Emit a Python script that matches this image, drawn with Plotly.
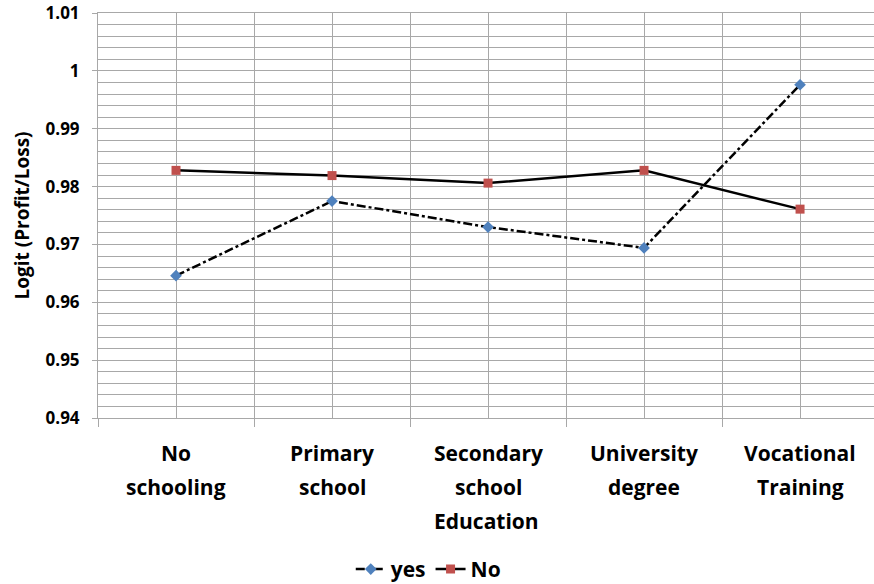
import plotly.graph_objects as go

# Education categories (two text lines each) and the two series
cat_line1 = ["No", "Primary", "Secondary", "University", "Vocational"]
cat_line2 = ["schooling", "school", "school", "degree", "Training"]
yes_vals = [0.9646, 0.9775, 0.9730, 0.9694, 0.9976]
no_vals = [0.9828, 0.9819, 0.9806, 0.9828, 0.9761]
y_ticks = [0.94, 0.95, 0.96, 0.97, 0.98, 0.99, 1.0, 1.01]
y_ticktext = ["0.94", "0.95", "0.96", "0.97", "0.98", "0.99", "1", "1.01"]

xpos = list(range(len(cat_line1)))
FONT = "Open Sans"
GRID = "#a8a8a8"
BIG = dict(family=FONT, size=21, color="black", weight="bold")

fig = go.Figure()
fig.add_trace(go.Scatter(
    x=xpos, y=yes_vals, name="yes", mode="lines+markers",
    line=dict(color="black", width=2.5, dash="dashdot"),
    marker=dict(symbol="diamond", size=9, color="#4f81bd"),
))
fig.add_trace(go.Scatter(
    x=xpos, y=no_vals, name="No", mode="lines+markers",
    line=dict(color="black", width=2.5),
    marker=dict(symbol="square", size=9, color="#c0504d"),
))

# Two-line category labels under the axis
for i, (a, b) in enumerate(zip(cat_line1, cat_line2)):
    for txt, shift in ((a, -35), (b, -69)):
        fig.add_annotation(
            x=i, y=0, xref="x", yref="paper", text=txt, showarrow=False,
            yanchor="middle", yshift=shift, font=BIG,
        )

# Axis title below the category labels
fig.add_annotation(
    x=0.5, y=0, xref="paper", yref="paper", text="Education", showarrow=False,
    yanchor="middle", yshift=-103, font=BIG,
)

fig.update_layout(
    width=874, height=584,
    margin=dict(l=98, r=0, t=13, b=166),
    paper_bgcolor="white", plot_bgcolor="white",
    showlegend=True,
    legend=dict(
        orientation="h", xref="container", x=0.49, xanchor="center",
        yref="container", y=0.025, yanchor="middle",
        font=BIG, itemwidth=30, tracegroupgap=0,
    ),
    xaxis=dict(
        range=[-0.5, 4.474], tick0=-0.5, dtick=1, showticklabels=False,
        ticks="outside", ticklen=8, tickcolor=GRID,
        showgrid=True, gridcolor=GRID, gridwidth=1,
        minor=dict(dtick=0.5, tick0=-0.5, showgrid=True, gridcolor=GRID, ticks=""),
        showline=True, linecolor=GRID, linewidth=1, mirror=True,
        zeroline=False, automargin=False,
    ),
    yaxis=dict(
        range=[0.94, 1.01], tickvals=y_ticks, ticktext=y_ticktext,
        ticks="outside", ticklen=5, tickcolor=GRID,
        showgrid=True, gridcolor=GRID, gridwidth=1,
        minor=dict(dtick=0.002, tick0=0.94, showgrid=True, gridcolor=GRID, ticks=""),
        showline=True, linecolor=GRID, linewidth=1,
        zeroline=False, automargin=False,
        tickfont=dict(family=FONT, size=17, color="black", weight="bold"),
        ticklabelstandoff=9, ticklabeloverflow="allow",
        title=dict(text="Logit (Profit/Loss)", standoff=10,
                   font=dict(family=FONT, size=19, color="black", weight="bold")),
    ),
)

fig.write_html("out.html")
